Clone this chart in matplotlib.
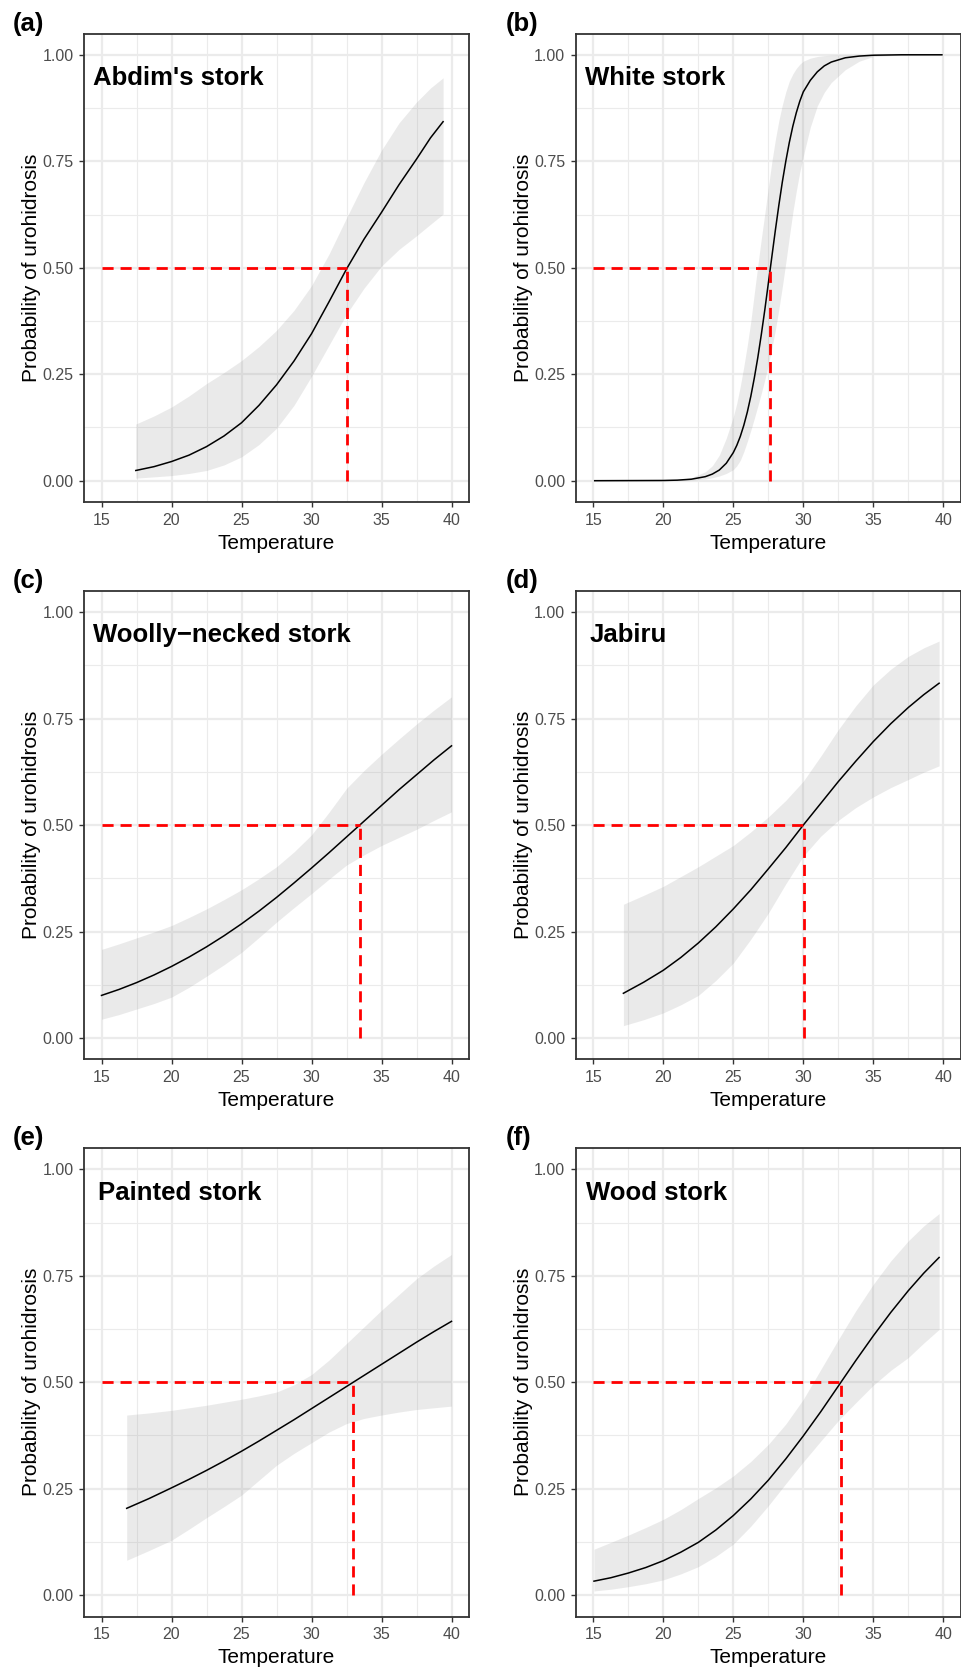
import matplotlib
matplotlib.use("Agg")
import matplotlib.pyplot as plt

plt.rcParams['font.family'] = ['Liberation Sans', 'DejaVu Sans']

# ---------------- data ----------------
species = ["Abdim's stork", "White stork", "Woolly\u2212necked stork",
           "Jabiru", "Painted stork", "Wood stork"]
panel_tags = ["(a)", "(b)", "(c)", "(d)", "(e)", "(f)"]

# temperature at which probability = 0.5
t50 = [32.57, 27.65, 33.45, 30.02, 32.98, 32.69]

temp_a = [17.45, 18.75, 20, 21.25, 22.5, 23.75, 25, 26.25, 27.5, 28.75, 30,
          31.25, 32.5, 33.75, 35, 36.25, 37.5, 38.5, 39.4]
fit_a = [0.024, 0.033, 0.045, 0.060, 0.080, 0.105, 0.136, 0.177, 0.225, 0.281,
         0.345, 0.420, 0.497, 0.567, 0.630, 0.695, 0.755, 0.805, 0.843]
hi_a = [0.133, 0.152, 0.173, 0.199, 0.228, 0.254, 0.282, 0.315, 0.353, 0.400,
        0.458, 0.532, 0.617, 0.700, 0.776, 0.840, 0.889, 0.922, 0.946]
lo_a = [0.006, 0.009, 0.012, 0.017, 0.024, 0.037, 0.056, 0.085, 0.123, 0.177,
        0.245, 0.318, 0.391, 0.452, 0.504, 0.543, 0.575, 0.602, 0.626]

temp_b = [15.1, 20, 21, 22, 23, 23.5, 24, 24.5, 25, 25.25, 25.5, 25.75, 26,
          26.25, 26.5, 26.75, 27, 27.25, 27.5, 27.75, 28, 28.25, 28.5, 28.75,
          29, 29.25, 29.5, 29.75, 30, 30.5, 31, 31.5, 32, 33, 34, 35, 37, 39.9]
fit_b = [0.0, 0.0005, 0.0013, 0.0035, 0.0095, 0.0155, 0.025, 0.041, 0.066,
         0.083, 0.104, 0.130, 0.161, 0.198, 0.241, 0.289, 0.343, 0.401, 0.463,
         0.525, 0.587, 0.646, 0.701, 0.750, 0.794, 0.832, 0.864, 0.891, 0.913,
         0.940, 0.960, 0.974, 0.983, 0.993, 0.997, 0.999, 1.0, 1.0]
hi_b = [0.0, 0.001, 0.002, 0.007, 0.021, 0.035, 0.060, 0.100, 0.150, 0.182,
        0.222, 0.268, 0.318, 0.374, 0.440, 0.505, 0.568, 0.627, 0.688, 0.748,
        0.800, 0.845, 0.882, 0.913, 0.938, 0.955, 0.968, 0.978, 0.985, 0.992,
        0.996, 0.998, 0.999, 1.0, 1.0, 1.0, 1.0, 1.0]
lo_b = [0.0, 0.0001, 0.0003, 0.001, 0.004, 0.007, 0.011, 0.017, 0.026, 0.035,
        0.048, 0.068, 0.092, 0.118, 0.146, 0.175, 0.205, 0.237, 0.272, 0.310,
        0.353, 0.402, 0.455, 0.512, 0.572, 0.630, 0.680, 0.725, 0.762, 0.830,
        0.880, 0.912, 0.935, 0.965, 0.985, 0.996, 0.9995, 1.0]

temp_c = [15, 16.25, 17.5, 18.75, 20, 21.25, 22.5, 23.75, 25, 26.25, 27.5,
          28.75, 30, 31.25, 32.5, 33.75, 35, 36.25, 37.5, 38.75, 40]
fit_c = [0.100, 0.114, 0.130, 0.148, 0.168, 0.190, 0.214, 0.240, 0.268, 0.298,
         0.330, 0.364, 0.399, 0.435, 0.472, 0.509, 0.546, 0.583, 0.618, 0.653,
         0.686]
hi_c = [0.208, 0.221, 0.235, 0.249, 0.264, 0.283, 0.303, 0.325, 0.348, 0.374,
        0.402, 0.437, 0.477, 0.530, 0.586, 0.628, 0.666, 0.702, 0.737, 0.770,
        0.801]
lo_c = [0.044, 0.055, 0.068, 0.081, 0.096, 0.119, 0.145, 0.172, 0.201, 0.236,
        0.272, 0.306, 0.339, 0.373, 0.406, 0.430, 0.452, 0.471, 0.490, 0.511,
        0.531]

temp_d = [17.15, 18.6, 20, 21.25, 22.5, 23.75, 25, 26.25, 27.5, 28.75, 30,
          31.25, 32.5, 33.75, 35, 36.25, 37.5, 38.6, 39.7]
fit_d = [0.105, 0.131, 0.159, 0.189, 0.223, 0.261, 0.303, 0.348, 0.397, 0.447,
         0.500, 0.551, 0.602, 0.650, 0.696, 0.738, 0.776, 0.806, 0.833]
hi_d = [0.314, 0.335, 0.356, 0.379, 0.402, 0.427, 0.452, 0.484, 0.519, 0.558,
        0.603, 0.662, 0.724, 0.780, 0.829, 0.866, 0.896, 0.916, 0.932]
lo_d = [0.029, 0.043, 0.059, 0.078, 0.100, 0.135, 0.176, 0.232, 0.293, 0.362,
        0.427, 0.474, 0.511, 0.541, 0.566, 0.588, 0.607, 0.624, 0.639]

temp_e = [16.8, 18.4, 20, 21.25, 22.5, 23.75, 25, 26.25, 27.5, 28.75, 30,
          31.25, 32.5, 33.75, 35, 36.25, 37.5, 38.75, 40]
fit_e = [0.204, 0.227, 0.252, 0.272, 0.293, 0.315, 0.338, 0.362, 0.387, 0.412,
         0.438, 0.464, 0.490, 0.516, 0.542, 0.568, 0.594, 0.619, 0.643]
hi_e = [0.423, 0.428, 0.434, 0.440, 0.446, 0.453, 0.460, 0.468, 0.477, 0.494,
        0.518, 0.552, 0.591, 0.630, 0.669, 0.706, 0.743, 0.773, 0.800]
lo_e = [0.082, 0.105, 0.129, 0.155, 0.182, 0.208, 0.235, 0.270, 0.305, 0.333,
        0.358, 0.383, 0.403, 0.415, 0.423, 0.430, 0.436, 0.440, 0.444]

temp_f = [15.05, 16.25, 17.5, 18.75, 20, 21.25, 22.5, 23.75, 25, 26.25, 27.5,
          28.75, 30, 31.25, 32.5, 33.75, 35, 36.25, 37.5, 38.6, 39.7]
fit_f = [0.033, 0.041, 0.052, 0.065, 0.081, 0.101, 0.124, 0.153, 0.187, 0.226,
         0.270, 0.320, 0.374, 0.431, 0.491, 0.551, 0.609, 0.664, 0.715, 0.756,
         0.793]
hi_f = [0.108, 0.124, 0.141, 0.159, 0.178, 0.201, 0.227, 0.252, 0.280, 0.314,
        0.354, 0.402, 0.460, 0.530, 0.600, 0.668, 0.730, 0.785, 0.832, 0.867,
        0.896]
lo_f = [0.010, 0.014, 0.020, 0.027, 0.036, 0.050, 0.067, 0.091, 0.120, 0.162,
        0.210, 0.262, 0.313, 0.362, 0.410, 0.452, 0.493, 0.528, 0.558, 0.592,
        0.624]

x_ticks = [15, 20, 25, 30, 35, 40]
x_minor = [17.5, 22.5, 27.5, 32.5, 37.5]
y_ticks = [0.0, 0.25, 0.5, 0.75, 1.0]
y_tick_labels = ["0.00", "0.25", "0.50", "0.75", "1.00"]
y_minor = [0.125, 0.375, 0.625, 0.875]

# species label x position (data units) per panel
label_x = [14.37, 14.42, 14.42, 14.72, 14.75, 14.46]

# ---------------- figure ----------------
W, H = 961, 1668
fig = plt.figure(figsize=(W / 100, H / 100), dpi=100)

col_left = [84 / W, 575.8 / W]
ax_w = 385 / W
row_top_px = [33.5, 590.8, 1148.0]
ax_h_px = [468.5, 468.5, 468.5]

panels = [
    (temp_a, fit_a, lo_a, hi_a),
    (temp_b, fit_b, lo_b, hi_b),
    (temp_c, fit_c, lo_c, hi_c),
    (temp_d, fit_d, lo_d, hi_d),
    (temp_e, fit_e, lo_e, hi_e),
    (temp_f, fit_f, lo_f, hi_f),
]

tag_x_px = [13.0, 506.0]
tag_base_px = [30.8, 588.0, 1145.0]

for i, (tt, ff, lo, hi) in enumerate(panels):
    r, c = divmod(i, 2)
    top = row_top_px[r]
    h = ax_h_px[r]
    ax = fig.add_axes([col_left[c], 1 - (top + h) / H, ax_w, h / H])

    ax.set_xlim(13.75, 41.25)
    ax.set_ylim(-0.05, 1.05)
    ax.set_xticks(x_ticks)
    ax.set_xticks(x_minor, minor=True)
    ax.set_yticks(y_ticks)
    ax.set_yticklabels(y_tick_labels)
    ax.set_yticks(y_minor, minor=True)
    ax.grid(which='major', color='#EBEBEB', lw=1.6)
    ax.grid(which='minor', color='#EBEBEB', lw=0.8)
    ax.set_axisbelow(True)
    ax.tick_params(which='minor', length=0)
    ax.tick_params(which='major', length=3.3, width=1.0, color='#333333',
                   labelsize=11.5, labelcolor='#4D4D4D', pad=4.3)
    for sp in ax.spines.values():
        sp.set_color('#333333')
        sp.set_linewidth(1.3)

    ax.fill_between(tt, lo, hi, color='#999999', alpha=0.2, lw=0, zorder=2)
    ax.plot(tt, ff, color='black', lw=1.1, zorder=3)
    ax.plot([15, t50[i]], [0.5, 0.5], color='#FF0000', lw=2,
            ls=(0, (4, 2.5)), zorder=4)
    ax.plot([t50[i], t50[i]], [0, 0.5], color='#FF0000', lw=2,
            ls=(0, (4, 2.5)), zorder=4)

    ax.text(label_x[i], 0.929, species[i], fontsize=18.5, fontweight='bold',
            ha='left', va='baseline', color='black', zorder=5)

    ax.set_xlabel("Temperature", fontsize=15, labelpad=4.3)
    ax.set_ylabel("Probability of urohidrosis", fontsize=15, labelpad=1.0)

    fig.text(tag_x_px[c] / W, 1 - tag_base_px[r] / H, panel_tags[i],
             fontsize=18.5, fontweight='bold', ha='left', va='baseline')

fig.savefig("out.png", dpi=100, facecolor='white')
